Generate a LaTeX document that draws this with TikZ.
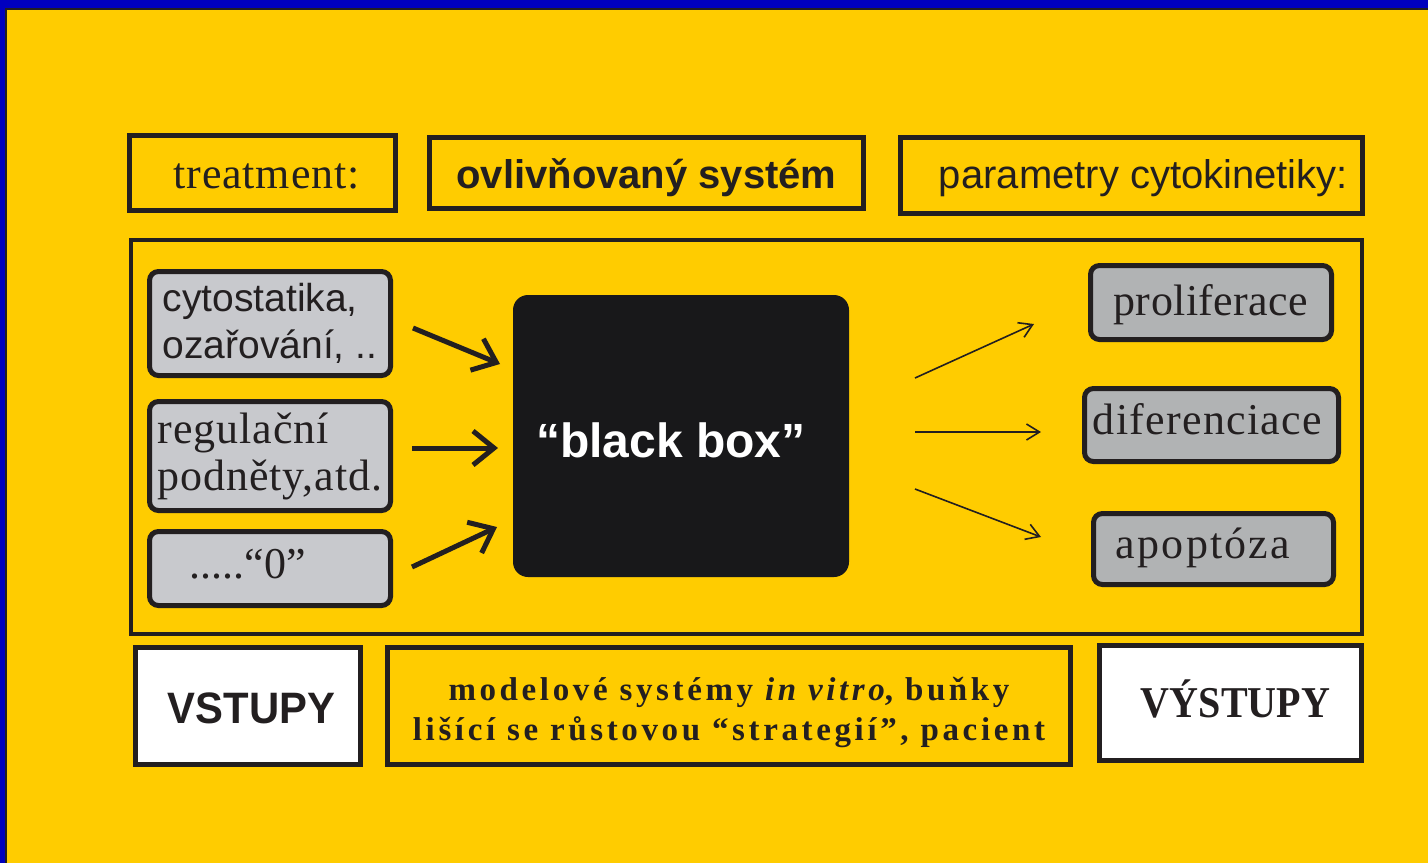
\documentclass[tikz,border=0pt]{standalone}
\usepackage{fontspec}
\usepackage{graphicx}
\setmainfont{Liberation Serif}
\setsansfont{Liberation Sans}
\usetikzlibrary{arrows.meta}
\definecolor{yel}{HTML}{FFCC00}
\definecolor{blu}{HTML}{0000BE}
\definecolor{dk}{HTML}{231F20}
\definecolor{grL}{HTML}{C8C9CD}
\definecolor{grR}{HTML}{B1B3B4}
\definecolor{bbx}{HTML}{18181A}
\begin{document}
\begin{tikzpicture}[x=1pt,y=-1pt,
  frame/.style={draw=dk, line width=5pt, rectangle, inner sep=0pt, text=dk},
  tbox/.style={frame, fill=yel},
  lbox/.style={frame, fill=grL, rounded corners=9pt},
  rbox/.style={frame, fill=grR, rounded corners=9pt},
  wbox/.style={frame, fill=white},
  serifA/.style={font=\fontsize{44}{47}\selectfont},
  sansA/.style={font=\sffamily\fontsize{40}{47}\selectfont},
  inarr/.style={draw=dk, line width=5pt, -{Straight Barb[length=21pt,width=34pt]}},
  outarr/.style={draw=dk, line width=1.6pt, -{Straight Barb[length=13pt,width=16pt]}}
]
\useasboundingbox (0,0) rectangle (1428,863);
\fill[yel] (0,0) rectangle (1428,863);
\fill[blu] (0,0) rectangle (1428,8);
\fill[blu] (0,0) rectangle (5,863);
\fill[dk] (5,8) rectangle (1428,10);
\fill[dk] (5,8) rectangle (7,863);

% top row
\node[tbox, minimum width=266pt, minimum height=75pt, text height=30pt, text depth=0pt,
  font=\fontsize{44}{47}\selectfont\addfontfeature{LetterSpace=2}] (tr) at (262.5,173) {\hspace*{8pt}treatment:};
\node[tbox, minimum width=434pt, minimum height=71pt, text height=30pt, text depth=0pt,
  font=\sffamily\bfseries\fontsize{40}{47}\selectfont] (ov) at (646.5,173) {ovlivňovaný systém};
\node[tbox, minimum width=462pt, minimum height=76pt, text height=25pt, text depth=0pt,
  sansA] (pa) at (1131.5,175.5) {\hspace*{24pt}parametry cytokinetiky:};

% system frame
\node[draw=dk, line width=4pt, minimum width=1231pt, minimum height=394pt, inner sep=0pt] (sys) at (746.5,437) {};

% inputs
\node[lbox, minimum width=241pt, minimum height=104pt, align=left,
  font=\sffamily\fontsize{39}{47}\selectfont] (c1) at (270,323.5) {cytostatika,\\ozařování, ..};
\node[lbox, minimum width=241pt, minimum height=109pt, align=left,
  font=\fontsize{44}{47}\selectfont\addfontfeature{LetterSpace=2}] (c2) at (270,456) {regulační\\podněty,atd.};
\node[lbox, minimum width=241pt, minimum height=74pt, text height=30pt, text depth=11pt,
  serifA] (c3) at (270,568.5) {.....“0”\hspace*{45pt}};

% black box
\node[fill=bbx, rounded corners=15pt, minimum width=336pt, minimum height=282pt, inner sep=0pt,
  text=white, text height=42pt, text depth=0pt,
  font=\sffamily\bfseries\fontsize{48}{50}\selectfont] (bb) at (681,436) {“black box”\hspace*{20pt}};

% outputs
\node[rbox, minimum width=241pt, minimum height=74pt, text height=30pt, text depth=5pt,
  font=\fontsize{44}{47}\selectfont\addfontfeature{LetterSpace=1}] (p1) at (1211,302.5) {proliferace};
\node[rbox, minimum width=254pt, minimum height=73pt, text height=30pt, text depth=12pt,
  font=\fontsize{44}{47}\selectfont\addfontfeature{LetterSpace=3}] (p2) at (1211.5,425) {diferenciace\hspace*{8pt}};
\node[rbox, minimum width=240pt, minimum height=71pt, text height=30pt, text depth=12pt,
  font=\fontsize{44}{47}\selectfont\addfontfeature{LetterSpace=5}] (p3) at (1213.5,549) {apoptóza\hspace*{21pt}};

% input arrows
\coordinate (a1s) at (413,328); \coordinate (a1e) at (500,364);
\coordinate (a2s) at (412,448); \coordinate (a2e) at (498,448);
\coordinate (a3s) at (412,567); \coordinate (a3e) at (497,527);
\draw[inarr] (a1s) -- (a1e);
\draw[inarr] (a2s) -- (a2e);
\draw[inarr] (a3s) -- (a3e);

% output arrows
\coordinate (b1s) at (915,378); \coordinate (b1e) at (1034,324);
\coordinate (b2s) at (915,432); \coordinate (b2e) at (1041,432);
\coordinate (b3s) at (915,489); \coordinate (b3e) at (1041,537);
\draw[outarr] (b1s) -- (b1e);
\draw[outarr] (b2s) -- (b2e);
\draw[outarr] (b3s) -- (b3e);

% bottom row
\node[wbox, minimum width=225pt, minimum height=117pt, text height=34pt, text depth=0pt,
  font=\sffamily\bfseries\fontsize{44}{47}\selectfont] (vs) at (248,706) {\hspace*{7pt}\scalebox{0.95}[1]{VSTUPY}};
\node[tbox, minimum width=683pt, minimum height=117pt, align=center, text height=75pt, text depth=7pt,
  font=\bfseries\fontsize{33}{40}\selectfont\addfontfeature{LetterSpace=11}] (md) at (729,706)
  {modelové systémy \textit{in vitro}, buňky\\lišící se růstovou “strategií”, pacient};
\node[wbox, minimum width=262pt, minimum height=115pt, text height=28pt, text depth=0pt,
  font=\bfseries\fontsize{44}{47}\selectfont] (vy) at (1230.5,703) {\hspace*{10pt}\scalebox{0.91}[1]{VÝSTUPY}};
\end{tikzpicture}
\end{document}
